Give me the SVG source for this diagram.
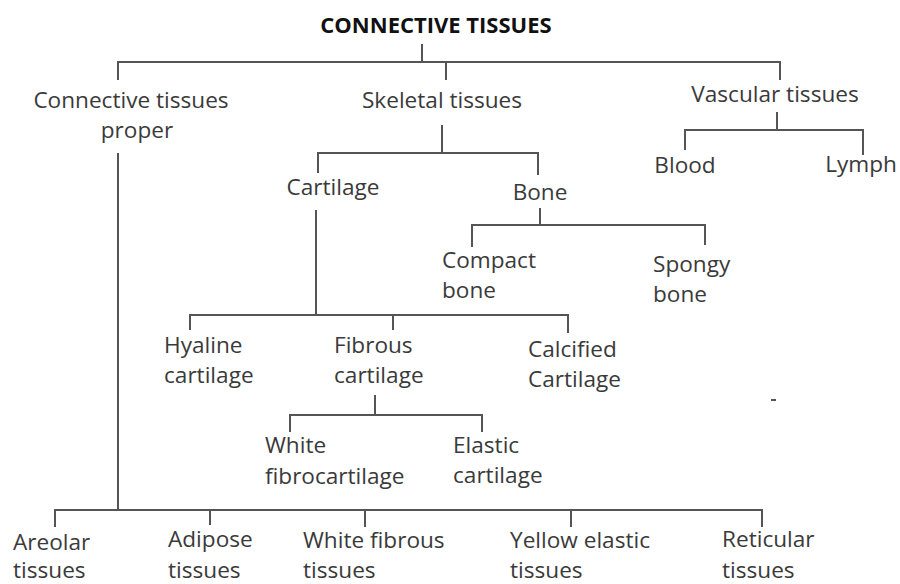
<svg xmlns="http://www.w3.org/2000/svg" width="900" height="584" viewBox="0 0 900 584">
<style>
text{font-family:"Open Sans","DejaVu Sans",sans-serif;font-size:22.6px;fill:#3a3a3a}
.t{font-weight:bold;fill:#111;font-size:22px}
.m{text-anchor:middle}
#connectors line,#connectors path{stroke:#555;stroke-width:2;fill:none}
</style>
<rect width="900" height="584" fill="#fff"/>
<g id="connectors">
<path d="M422 44V62M118 80V62H780V80M446 62V80"/>
<path d="M118 153V510"/>
<path d="M442 125V153M318 173V153H538V175"/>
<path d="M777 112V130M685 150V130H863V155"/>
<path d="M540 208V225M472 247V225H705V245"/>
<path d="M316 210V315M190 330V315H568V333M393 315V330"/>
<path d="M375 395V415M290 432V415H482V432"/>
<path d="M55 527V510H762V527M210 510V525M365 510V527M571 510V527"/>
<line x1="771" y1="400" x2="776" y2="400"/>
</g>
<g id="root"><text class="t m" x="436" y="33">CONNECTIVE TISSUES</text></g>
<g id="ctp"><text class="m" x="131" y="108">Connective tissues</text><text class="m" x="137" y="138">proper</text></g>
<g id="skeletal"><text class="m" x="442" y="108">Skeletal tissues</text></g>
<g id="vascular"><text class="m" x="775" y="102">Vascular tissues</text></g>
<g id="blood"><text class="m" x="685" y="173">Blood</text></g>
<g id="lymph"><text class="m" x="861" y="172">Lymph</text></g>
<g id="cartilage"><text class="m" x="333" y="195">Cartilage</text></g>
<g id="bone"><text class="m" x="540" y="200">Bone</text></g>
<g id="compact"><text x="442" y="268">Compact</text><text x="442" y="298">bone</text></g>
<g id="spongy"><text x="653" y="272">Spongy</text><text x="653" y="302">bone</text></g>
<g id="hyaline"><text x="164" y="353">Hyaline</text><text x="164" y="383">cartilage</text></g>
<g id="fibrous"><text x="334" y="353">Fibrous</text><text x="334" y="383">cartilage</text></g>
<g id="calcified"><text x="528" y="357">Calcified</text><text x="528" y="387">Cartilage</text></g>
<g id="whitefibro"><text x="265" y="453">White</text><text x="265" y="484">fibrocartilage</text></g>
<g id="elastic"><text x="453" y="453">Elastic</text><text x="453" y="483">cartilage</text></g>
<g id="areolar"><text x="13" y="550">Areolar</text><text x="13" y="578">tissues</text></g>
<g id="adipose"><text x="168" y="547">Adipose</text><text x="168" y="578">tissues</text></g>
<g id="whitefibrous"><text x="303" y="548">White fibrous</text><text x="303" y="578">tissues</text></g>
<g id="yellow"><text x="510" y="548">Yellow elastic</text><text x="510" y="578">tissues</text></g>
<g id="reticular"><text x="722" y="547">Reticular</text><text x="722" y="578">tissues</text></g>
</svg>
